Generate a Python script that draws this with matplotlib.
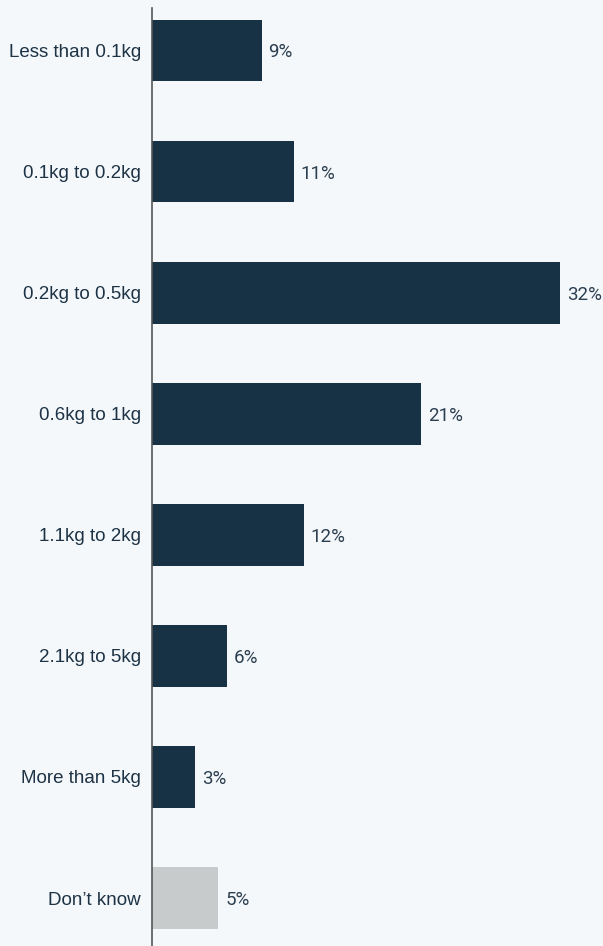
import matplotlib
matplotlib.use("Agg")
import matplotlib.pyplot as plt

# data
categories = ["Less than 0.1kg", "0.1kg to 0.2kg", "0.2kg to 0.5kg", "0.6kg to 1kg",
              "1.1kg to 2kg", "2.1kg to 5kg", "More than 5kg", "Don\u2019t know"]
values = [8.6, 11.1, 32.0, 21.1, 11.9, 5.9, 3.4, 5.2]
labels = ["9%", "11%", "32%", "21%", "12%", "6%", "3%", "5%"]

bg = "#f4f8fb"
navy = "#183245"
grey = "#c8cbcc"
txt = "#1d3345"

fig = plt.figure(figsize=(6.03, 9.46), dpi=100, facecolor=bg)
ax = fig.add_axes([152 / 603, 0, 451 / 603, 938 / 946], facecolor=bg)

colors = [navy] * (len(values) - 1) + [grey]
ypos = list(range(len(categories)))
ax.barh(ypos, values, height=0.51, color=colors)

for y, v, lab in zip(ypos, values, labels):
    ax.annotate(lab, (v, y), xytext=(5, 0), textcoords="offset points",
                va="center_baseline", ha="left", fontsize=13.5, family="Roboto",
                color="#2c3f50")

ax.set_yticks(ypos)
ax.set_yticklabels(categories, fontsize=13.5, family="Liberation Sans", color=txt)
ax.tick_params(axis="y", length=0, pad=8)
ax.set_xticks([])
ax.set_xlim(0, 451 / 408 * 32)
ax.set_ylim(7.396, -0.351)

for s in ["top", "right", "bottom"]:
    ax.spines[s].set_visible(False)
ax.spines["left"].set_color("#555555")
ax.spines["left"].set_linewidth(1.2)

fig.savefig("out.png", dpi=100, facecolor=bg)
